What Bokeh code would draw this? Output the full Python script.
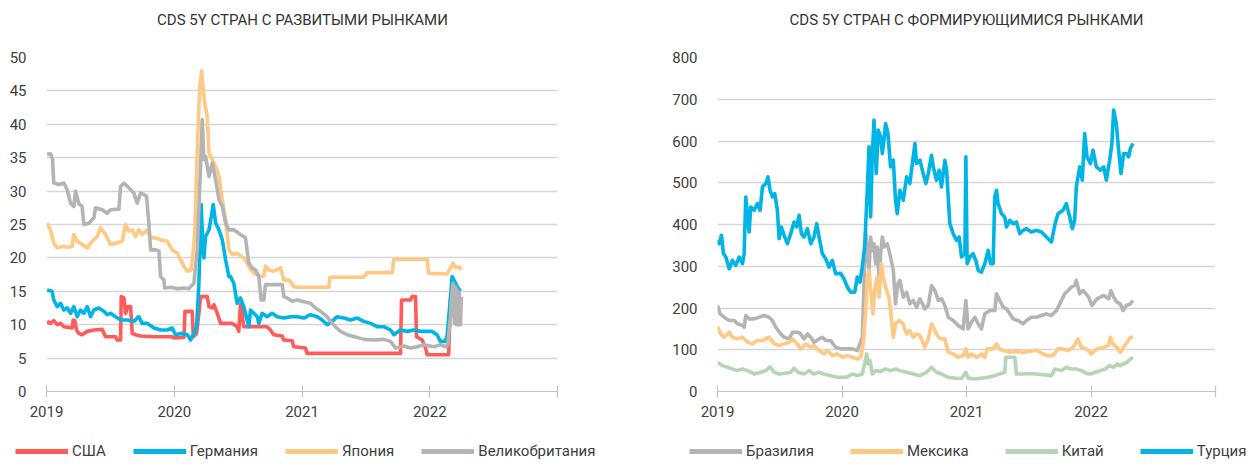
from bokeh.plotting import figure
from bokeh.models import ColumnDataSource, FixedTicker, Legend, LegendItem, Range1d, Label
from bokeh.layouts import row, column
from bokeh.embed import file_html
from bokeh.resources import INLINE

FONT = "Roboto"
TXT = "#404040"

# ---------------- shared ----------------
year_ticks = [2019, 2020, 2021, 2022, 2023]
year_labels = ["2019", "2020", "2021", "2022", ""]

# ---------------- developed markets ----------------
dm_title = "CDS 5Y СТРАН С РАЗВИТЫМИ РЫНКАМИ"
dm_y_ticks = [0, 5, 10, 15, 20, 25, 30, 35, 40, 45, 50]
dm_names = ["США", "Германия", "Япония", "Великобритания"]

usa_x = [2019.005, 2019.031, 2019.057, 2019.084, 2019.110, 2019.136, 2019.201, 2019.209, 2019.222, 2019.235,
         2019.253, 2019.279, 2019.319, 2019.371, 2019.436, 2019.462, 2019.540, 2019.554, 2019.580, 2019.585,
         2019.606, 2019.619, 2019.637, 2019.658, 2019.671, 2019.697, 2019.736, 2019.841, 2019.984, 2019.997,
         2020.076, 2020.084, 2020.141, 2020.149, 2020.175, 2020.193, 2020.206, 2020.258, 2020.272, 2020.298,
         2020.311, 2020.337, 2020.363, 2020.454, 2020.492, 2020.505, 2020.518, 2020.531, 2020.544, 2020.727,
         2020.753, 2020.779, 2020.845, 2020.858, 2020.923, 2020.936, 2021.027, 2021.040, 2021.771, 2021.779,
         2021.849, 2021.862, 2021.889, 2021.896, 2021.941, 2021.967, 2021.980, 2022.148, 2022.162, 2022.188,
         2022.214, 2022.240]
usa_y = [10.5, 10.2, 10.6, 10.0, 10.2, 9.7, 9.5, 10.7, 10.6, 9.2,
         8.7, 8.5, 9.0, 9.2, 9.3, 8.2, 8.2, 7.7, 7.7, 14.2,
         14.0, 11.7, 12.7, 12.7, 8.7, 8.5, 8.3, 8.2, 8.2, 8.0,
         8.1, 12.0, 12.0, 8.2, 8.7, 11.7, 14.2, 14.2, 12.7, 12.5,
         13.0, 11.7, 10.2, 10.2, 9.7, 9.0, 13.0, 11.7, 9.7, 9.7,
         9.2, 8.5, 8.3, 7.7, 7.6, 6.7, 6.5, 5.7, 5.7, 13.7,
         13.7, 14.2, 14.2, 8.2, 7.7, 6.5, 5.5, 5.5, 13.7, 15.2,
         14.7, 13.5]

ger_x = [2019.005, 2019.044, 2019.057, 2019.084, 2019.110, 2019.136, 2019.162, 2019.188, 2019.214, 2019.240,
         2019.266, 2019.292, 2019.319, 2019.345, 2019.371, 2019.410, 2019.449, 2019.475, 2019.501, 2019.540,
         2019.580, 2019.632, 2019.684, 2019.723, 2019.749, 2019.789, 2019.841, 2019.893, 2019.945, 2019.984,
         2020.010, 2020.050, 2020.102, 2020.128, 2020.154, 2020.175, 2020.193, 2020.211, 2020.225, 2020.232,
         2020.245, 2020.272, 2020.290, 2020.305, 2020.324, 2020.350, 2020.376, 2020.402, 2020.428, 2020.440,
         2020.466, 2020.492, 2020.518, 2020.544, 2020.571, 2020.584, 2020.597, 2020.623, 2020.649, 2020.662,
         2020.688, 2020.727, 2020.766, 2020.805, 2020.858, 2020.910, 2020.962, 2021.014, 2021.066, 2021.119,
         2021.158, 2021.197, 2021.236, 2021.275, 2021.327, 2021.380, 2021.432, 2021.484, 2021.536, 2021.588,
         2021.641, 2021.693, 2021.719, 2021.771, 2021.823, 2021.876, 2021.928, 2021.979, 2022.018, 2022.057,
         2022.083, 2022.122, 2022.135, 2022.156, 2022.175, 2022.195, 2022.214, 2022.240]
ger_y = [15.2, 15.0, 13.7, 12.7, 13.2, 12.2, 12.5, 11.7, 12.7, 11.2,
         12.2, 11.7, 12.7, 11.2, 12.2, 12.5, 12.0, 11.5, 11.7, 11.2,
         10.7, 10.7, 10.5, 11.2, 10.2, 10.2, 9.5, 9.2, 9.2, 9.5,
         8.5, 8.7, 8.5, 7.7, 8.7, 9.7, 16.2, 28.0, 21.2, 20.0,
         23.2, 24.2, 26.2, 28.0, 25.2, 24.2, 22.7, 19.7, 17.2, 17.2,
         16.2, 13.2, 14.0, 12.7, 10.7, 9.7, 12.2, 11.7, 11.2, 10.2,
         11.7, 11.2, 11.7, 11.2, 11.0, 11.2, 11.2, 11.0, 11.5, 11.2,
         10.7, 10.0, 10.5, 11.2, 11.0, 10.7, 11.0, 10.5, 10.2, 9.7,
         9.7, 9.2, 8.5, 9.2, 9.0, 9.2, 9.0, 9.0, 9.0, 8.5,
         7.5, 7.5, 8.2, 12.7, 17.2, 16.5, 15.7, 15.0]

jpn_x = [2019.005, 2019.031, 2019.057, 2019.084, 2019.123, 2019.162, 2019.201, 2019.214, 2019.240, 2019.279,
         2019.319, 2019.358, 2019.397, 2019.423, 2019.462, 2019.501, 2019.540, 2019.593, 2019.619, 2019.645,
         2019.671, 2019.697, 2019.723, 2019.749, 2019.789, 2019.815, 2019.854, 2019.893, 2019.945, 2019.984,
         2020.023, 2020.050, 2020.076, 2020.102, 2020.133, 2020.149, 2020.162, 2020.180, 2020.198, 2020.214,
         2020.227, 2020.238, 2020.258, 2020.272, 2020.298, 2020.324, 2020.350, 2020.376, 2020.402, 2020.428,
         2020.454, 2020.492, 2020.544, 2020.584, 2020.623, 2020.675, 2020.701, 2020.714, 2020.740, 2020.779,
         2020.832, 2020.858, 2020.897, 2020.936, 2020.962, 2021.210, 2021.218, 2021.484, 2021.510, 2021.706,
         2021.719, 2021.980, 2021.992, 2022.135, 2022.162, 2022.182, 2022.201, 2022.227, 2022.248]
jpn_y = [25.2, 24.2, 22.2, 21.5, 21.7, 21.6, 21.7, 23.5, 22.5, 22.0,
         21.5, 22.5, 23.2, 24.5, 23.5, 22.0, 22.2, 22.5, 25.0, 24.0,
         24.2, 23.2, 24.2, 23.5, 24.2, 23.0, 23.0, 22.7, 22.5, 21.2,
         20.7, 19.7, 18.7, 18.0, 18.2, 21.2, 24.2, 36.2, 45.2, 48.0,
         45.2, 43.2, 41.2, 35.7, 34.7, 33.7, 32.2, 28.7, 25.7, 21.2,
         20.5, 20.7, 20.0, 18.7, 17.7, 17.2, 17.3, 18.8, 18.2, 18.0,
         18.5, 16.7, 16.7, 15.7, 15.6, 15.6, 17.1, 17.1, 17.8, 17.8,
         19.8, 19.8, 17.7, 17.6, 18.5, 19.2, 18.5, 18.7, 18.2]

uk_x = [2019.005, 2019.031, 2019.047, 2019.057, 2019.097, 2019.136, 2019.162, 2019.188, 2019.214, 2019.227,
        2019.253, 2019.279, 2019.292, 2019.332, 2019.371, 2019.384, 2019.436, 2019.475, 2019.501, 2019.567,
        2019.580, 2019.606, 2019.645, 2019.684, 2019.710, 2019.736, 2019.762, 2019.783, 2019.802, 2019.815,
        2019.854, 2019.880, 2019.893, 2019.919, 2019.924, 2019.971, 2020.023, 2020.076, 2020.115, 2020.128,
        2020.154, 2020.180, 2020.201, 2020.219, 2020.232, 2020.245, 2020.272, 2020.298, 2020.324, 2020.350,
        2020.376, 2020.402, 2020.428, 2020.466, 2020.518, 2020.557, 2020.584, 2020.610, 2020.636, 2020.662,
        2020.680, 2020.701, 2020.714, 2020.779, 2020.845, 2020.858, 2020.884, 2020.923, 2020.962, 2021.001,
        2021.066, 2021.106, 2021.145, 2021.197, 2021.223, 2021.262, 2021.301, 2021.354, 2021.432, 2021.484,
        2021.562, 2021.641, 2021.693, 2021.732, 2021.797, 2021.849, 2021.902, 2021.954, 2022.031, 2022.083,
        2022.122, 2022.141, 2022.162, 2022.175, 2022.182, 2022.193, 2022.201, 2022.208, 2022.216, 2022.224,
        2022.232, 2022.240, 2022.248]
uk_y = [35.5, 35.6, 34.8, 31.2, 31.0, 31.2, 30.2, 28.2, 27.7, 30.0,
        28.1, 27.7, 25.0, 25.2, 26.0, 27.5, 27.2, 26.7, 27.2, 27.3,
        30.7, 31.2, 30.5, 29.7, 28.2, 29.7, 29.5, 29.2, 25.0, 21.2,
        21.2, 21.0, 17.2, 16.7, 15.5, 15.6, 15.4, 15.5, 15.4, 15.7,
        16.2, 21.2, 31.2, 40.7, 34.7, 35.2, 32.2, 34.2, 31.7, 28.7,
        27.7, 25.2, 24.2, 24.2, 23.5, 23.0, 19.2, 18.5, 18.2, 17.2,
        13.7, 13.7, 16.0, 16.0, 16.0, 14.2, 14.0, 13.5, 13.7, 13.5,
        13.2, 12.5, 12.0, 11.2, 10.5, 9.7, 9.0, 8.5, 8.1, 7.8,
        7.7, 7.8, 7.5, 6.5, 6.8, 6.5, 6.7, 7.0, 6.7, 7.0,
        6.7, 7.0, 11.2, 15.2, 16.2, 10.2, 15.7, 10.0, 15.2, 10.0,
        14.7, 10.0, 14.2]

# ---------------- emerging markets ----------------
em_title = "CDS 5Y СТРАН С ФОРМИРУЮЩИМИСЯ РЫНКАМИ"
em_y_ticks = [0, 100, 200, 300, 400, 500, 600, 700, 800]
em_names = ["Бразилия", "Мексика", "Китай", "Турция"]

bra_x = [2019.000, 2019.021, 2019.053, 2019.094, 2019.134, 2019.160, 2019.201, 2019.214, 2019.227, 2019.254,
         2019.294, 2019.334, 2019.374, 2019.414, 2019.441, 2019.468, 2019.508, 2019.535, 2019.575, 2019.602,
         2019.642, 2019.668, 2019.695, 2019.722, 2019.749, 2019.775, 2019.816, 2019.842, 2019.869, 2019.909,
         2019.949, 2019.989, 2020.043, 2020.083, 2020.123, 2020.144, 2020.163, 2020.190, 2020.203, 2020.217,
         2020.230, 2020.243, 2020.257, 2020.270, 2020.283, 2020.297, 2020.310, 2020.324, 2020.337, 2020.364,
         2020.377, 2020.390, 2020.412, 2020.430, 2020.449, 2020.465, 2020.492, 2020.519, 2020.545, 2020.572,
         2020.599, 2020.626, 2020.666, 2020.693, 2020.719, 2020.746, 2020.773, 2020.799, 2020.826, 2020.853,
         2020.893, 2020.933, 2020.973, 2020.995, 2021.013, 2021.040, 2021.067, 2021.094, 2021.120, 2021.147,
         2021.187, 2021.227, 2021.241, 2021.267, 2021.294, 2021.321, 2021.348, 2021.374, 2021.414, 2021.455,
         2021.481, 2021.521, 2021.561, 2021.602, 2021.642, 2021.682, 2021.722, 2021.749, 2021.789, 2021.816,
         2021.842, 2021.869, 2021.882, 2021.909, 2021.936, 2021.981, 2022.008, 2022.048, 2022.102, 2022.142,
         2022.160, 2022.182, 2022.209, 2022.235, 2022.257, 2022.283, 2022.316, 2022.337]
bra_y = [206, 186, 178, 170, 170, 162, 158, 154, 182, 174,
         174, 178, 182, 178, 170, 154, 138, 130, 126, 142,
         142, 138, 126, 138, 130, 118, 126, 130, 122, 122,
         106, 102, 102, 102, 98, 114, 130, 382, 346, 290,
         370, 338, 354, 306, 346, 274, 330, 370, 346, 354,
         338, 322, 290, 210, 258, 266, 226, 238, 210, 218,
         202, 222, 198, 206, 254, 242, 218, 222, 206, 178,
         170, 158, 150, 218, 150, 166, 178, 162, 150, 186,
         194, 194, 234, 218, 202, 198, 186, 174, 170, 162,
         170, 178, 178, 182, 186, 182, 194, 210, 234, 242,
         250, 254, 266, 234, 242, 226, 206, 222, 230, 222,
         242, 226, 214, 210, 194, 206, 210, 218]

mex_x = [2019.000, 2019.027, 2019.053, 2019.094, 2019.120, 2019.160, 2019.201, 2019.241, 2019.281, 2019.321,
         2019.361, 2019.414, 2019.455, 2019.495, 2019.535, 2019.575, 2019.602, 2019.642, 2019.668, 2019.709,
         2019.749, 2019.775, 2019.816, 2019.856, 2019.882, 2019.922, 2019.963, 2020.003, 2020.043, 2020.083,
         2020.123, 2020.150, 2020.171, 2020.190, 2020.203, 2020.217, 2020.230, 2020.249, 2020.262, 2020.283,
         2020.297, 2020.316, 2020.332, 2020.350, 2020.377, 2020.390, 2020.412, 2020.430, 2020.457, 2020.492,
         2020.519, 2020.545, 2020.572, 2020.599, 2020.626, 2020.666, 2020.693, 2020.719, 2020.746, 2020.773,
         2020.799, 2020.826, 2020.853, 2020.893, 2020.933, 2020.973, 2020.995, 2021.013, 2021.040, 2021.080,
         2021.120, 2021.147, 2021.166, 2021.214, 2021.241, 2021.267, 2021.294, 2021.348, 2021.401, 2021.455,
         2021.508, 2021.561, 2021.615, 2021.655, 2021.695, 2021.735, 2021.775, 2021.816, 2021.856, 2021.896,
         2021.922, 2021.963, 2022.003, 2022.048, 2022.102, 2022.142, 2022.155, 2022.176, 2022.209, 2022.235,
         2022.262, 2022.289, 2022.316, 2022.337]
mex_y = [155, 138, 130, 142, 130, 126, 130, 118, 114, 122,
         122, 130, 114, 110, 114, 118, 126, 114, 102, 114,
         106, 110, 98, 90, 98, 86, 90, 82, 86, 82,
         78, 82, 114, 194, 274, 290, 242, 186, 242, 274,
         226, 306, 274, 250, 226, 194, 130, 162, 170, 162,
         138, 146, 130, 138, 134, 106, 126, 162, 146, 130,
         126, 126, 94, 90, 82, 86, 102, 82, 90, 82,
         90, 82, 102, 102, 114, 102, 98, 94, 96, 94,
         96, 99, 90, 86, 86, 102, 102, 98, 106, 126,
         106, 102, 90, 102, 106, 110, 130, 114, 106, 94,
         106, 118, 130, 130]

chn_x = [2019.000, 2019.040, 2019.080, 2019.120, 2019.160, 2019.201, 2019.241, 2019.294, 2019.348, 2019.388,
         2019.422, 2019.455, 2019.495, 2019.535, 2019.588, 2019.615, 2019.647, 2019.695, 2019.735, 2019.775,
         2019.816, 2019.856, 2019.909, 2019.963, 2020.003, 2020.043, 2020.083, 2020.123, 2020.163, 2020.182,
         2020.198, 2020.211, 2020.225, 2020.243, 2020.270, 2020.310, 2020.350, 2020.390, 2020.430, 2020.465,
         2020.519, 2020.572, 2020.626, 2020.679, 2020.719, 2020.759, 2020.799, 2020.853, 2020.906, 2020.960,
         2020.995, 2021.013, 2021.067, 2021.120, 2021.174, 2021.227, 2021.267, 2021.307, 2021.316, 2021.388,
         2021.401, 2021.455, 2021.508, 2021.561, 2021.615, 2021.682, 2021.709, 2021.762, 2021.802, 2021.842,
         2021.882, 2021.922, 2021.963, 2021.995, 2022.035, 2022.075, 2022.115, 2022.150, 2022.182, 2022.209,
         2022.235, 2022.262, 2022.289, 2022.316, 2022.337]
chn_y = [70, 62, 58, 54, 50, 54, 50, 42, 46, 50,
         59, 46, 42, 43, 46, 56, 46, 42, 50, 42,
         46, 42, 38, 34, 34, 35, 42, 38, 42, 66,
         90, 66, 74, 42, 50, 48, 54, 50, 54, 50,
         46, 42, 38, 46, 58, 46, 42, 34, 32, 31,
         46, 32, 30, 32, 34, 38, 42, 46, 82, 82,
         42, 42, 43, 42, 40, 38, 54, 50, 58, 54,
         54, 50, 43, 42, 46, 50, 54, 62, 58, 66,
         62, 66, 70, 78, 82]

tur_x = [2019.000, 2019.013, 2019.032, 2019.048, 2019.067, 2019.094, 2019.120, 2019.147, 2019.174, 2019.201,
         2019.214, 2019.227, 2019.254, 2019.267, 2019.294, 2019.321, 2019.342, 2019.361, 2019.388, 2019.406,
         2019.422, 2019.441, 2019.460, 2019.481, 2019.495, 2019.513, 2019.535, 2019.561, 2019.588, 2019.615,
         2019.636, 2019.655, 2019.674, 2019.695, 2019.722, 2019.749, 2019.775, 2019.797, 2019.816, 2019.842,
         2019.869, 2019.896, 2019.922, 2019.949, 2019.989, 2020.016, 2020.043, 2020.070, 2020.102, 2020.123,
         2020.144, 2020.163, 2020.182, 2020.203, 2020.217, 2020.230, 2020.243, 2020.257, 2020.275, 2020.291,
         2020.310, 2020.324, 2020.337, 2020.350, 2020.369, 2020.390, 2020.412, 2020.430, 2020.444, 2020.465,
         2020.492, 2020.519, 2020.545, 2020.572, 2020.586, 2020.599, 2020.626, 2020.652, 2020.674, 2020.693,
         2020.719, 2020.733, 2020.759, 2020.781, 2020.799, 2020.826, 2020.840, 2020.866, 2020.893, 2020.920,
         2020.941, 2020.960, 2020.987, 2020.995, 2021.005, 2021.027, 2021.053, 2021.075, 2021.094, 2021.120,
         2021.147, 2021.174, 2021.193, 2021.214, 2021.227, 2021.241, 2021.254, 2021.281, 2021.307, 2021.321,
         2021.348, 2021.374, 2021.401, 2021.428, 2021.455, 2021.481, 2021.521, 2021.561, 2021.602, 2021.642,
         2021.682, 2021.709, 2021.735, 2021.775, 2021.802, 2021.829, 2021.850, 2021.869, 2021.882, 2021.909,
         2021.930, 2021.949, 2021.968, 2021.995, 2022.016, 2022.043, 2022.075, 2022.102, 2022.123, 2022.150,
         2022.168, 2022.182, 2022.203, 2022.222, 2022.241, 2022.262, 2022.283, 2022.302, 2022.316, 2022.337]
tur_y = [362, 354, 374, 330, 322, 294, 314, 302, 322, 306,
         330, 466, 382, 442, 434, 450, 434, 490, 498, 514,
         482, 466, 474, 434, 366, 394, 374, 354, 378, 406,
         394, 422, 378, 370, 390, 354, 370, 402, 370, 330,
         318, 298, 314, 282, 283, 270, 250, 238, 238, 274,
         262, 298, 346, 482, 586, 418, 562, 650, 522, 626,
         610, 570, 602, 642, 618, 538, 554, 458, 426, 482,
         458, 514, 498, 562, 594, 546, 554, 522, 498, 522,
         566, 538, 506, 530, 490, 554, 530, 402, 378, 362,
         370, 322, 330, 562, 306, 322, 330, 314, 290, 286,
         306, 338, 306, 306, 466, 482, 450, 426, 418, 394,
         410, 402, 406, 378, 386, 390, 382, 386, 382, 370,
         358, 398, 426, 434, 450, 418, 390, 410, 490, 538,
         506, 618, 562, 546, 578, 538, 530, 538, 506, 554,
         594, 674, 642, 578, 522, 570, 570, 562, 582, 594]

RED = "#ff5b5b"
BLUE = "#00b4e6"
ORANGE = "#ffc883"
GRAY = "#b4b4b4"
GREEN = "#b6d5b4"

W1 = 625
W2 = 630


def blank_fig(width, height):
    # area without axes; its frame covers the whole figure (ranges far from the data)
    f = figure(width=width, height=height, output_backend="svg", toolbar_location=None,
               x_axis_type=None, y_axis_type=None, x_range=Range1d(0, 1), y_range=Range1d(0, 1),
               min_border_left=0, min_border_right=0, min_border_top=0, min_border_bottom=0)
    f.outline_line_color = None
    f.xgrid.grid_line_color = None
    f.ygrid.grid_line_color = None
    return f


def make_header(width, title, cx):
    h = blank_fig(width, 47)
    h.add_layout(Label(x=cx, y=28, x_units="screen", y_units="screen", text=title,
                       text_align="center", text_baseline="middle", text_font=FONT,
                       text_font_size="15px", text_color="#333333"))
    return h


def make_legend(width, names, series, lx, spacing):
    f = blank_fig(width, 32)
    items = []
    for name, (xs, ys, color) in zip(names, series):
        # same series drawn outside this strip's ranges: only its legend swatch shows
        proxy = f.line(xs, ys, line_color=color, line_width=5)
        items.append(LegendItem(label=name, renderers=[proxy]))
    legend = Legend(items=items, orientation="horizontal", location=(lx, 2),
                    glyph_width=53, glyph_height=20, label_standoff=4, spacing=spacing,
                    padding=0, margin=0, border_line_color=None, background_fill_alpha=0,
                    label_text_font=FONT, label_text_font_size="15px", label_text_color=TXT)
    f.add_layout(legend)
    return f


def make_plot(width, b_left, frame_w, y_end, y_ticks, series):
    p = figure(width=width, height=384, output_backend="svg", toolbar_location=None,
               x_range=Range1d(2019, 2023), y_range=Range1d(0, y_end),
               min_border_left=b_left, min_border_right=width - b_left - frame_w,
               min_border_top=10, min_border_bottom=40)
    p.outline_line_color = None

    p.xaxis.ticker = FixedTicker(ticks=year_ticks)
    p.xaxis.major_label_overrides = {t: l for t, l in zip(year_ticks, year_labels)}
    p.xaxis.axis_line_color = "#c4c4c4"
    p.xaxis.axis_line_width = 1.2
    p.xaxis.major_tick_line_color = "#c4c4c4"
    p.xaxis.major_tick_line_width = 1.2
    p.xaxis.major_tick_in = 6
    p.xaxis.major_tick_out = 6
    p.xaxis.minor_tick_line_color = None
    p.xaxis.major_label_standoff = 8
    p.xaxis.major_label_text_font = FONT
    p.xaxis.major_label_text_font_size = "15px"
    p.xaxis.major_label_text_color = TXT

    p.yaxis.ticker = FixedTicker(ticks=y_ticks)
    p.yaxis.axis_line_color = None
    p.yaxis.major_tick_line_color = None
    p.yaxis.minor_tick_line_color = None
    p.yaxis.major_label_standoff = 14
    p.yaxis.major_label_text_font = FONT
    p.yaxis.major_label_text_font_size = "15px"
    p.yaxis.major_label_text_color = TXT

    p.xgrid.grid_line_color = None
    p.ygrid.ticker = FixedTicker(ticks=y_ticks)
    p.ygrid.grid_line_color = "#d6d6d6"
    p.ygrid.grid_line_width = 1.5

    for xs, ys, color in series:
        src = ColumnDataSource(dict(x=xs, y=ys))
        p.line("x", "y", source=src, line_color=color, line_width=3.6, line_join="round")
    return p


dm_series = [(usa_x, usa_y, RED), (ger_x, ger_y, BLUE), (jpn_x, jpn_y, ORANGE), (uk_x, uk_y, GRAY)]
em_series = [(bra_x, bra_y, GRAY), (mex_x, mex_y, ORANGE), (chn_x, chn_y, GREEN), (tur_x, tur_y, BLUE)]

p1 = make_plot(W1, 46, 511, 50, dm_y_ticks, dm_series)
p2 = make_plot(W2, 92, 498, 800, em_y_ticks, em_series)

h1 = make_header(W1, dm_title, 302)
h2 = make_header(W2, em_title, 341)
l1 = make_legend(W1, dm_names, dm_series, 15, 27)
l2 = make_legend(W2, em_names, em_series, 64, 36)

layout = column(row(h1, h2), row(p1, p2), row(l1, l2))
open("out.html", "w").write(file_html(layout, INLINE))
